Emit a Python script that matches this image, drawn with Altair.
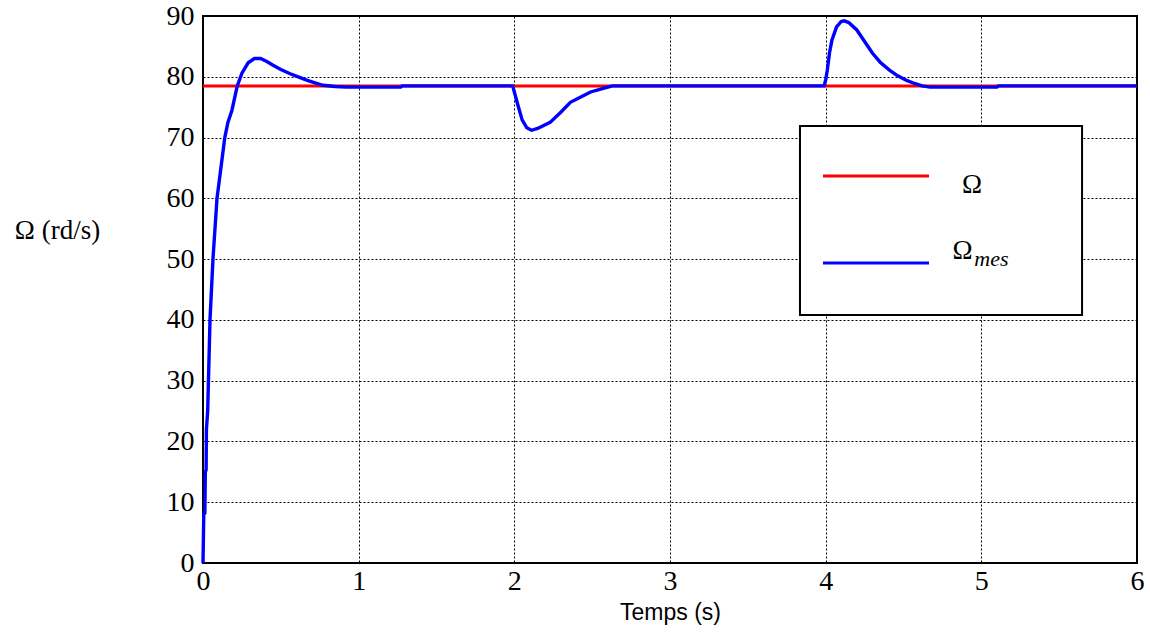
import altair as alt
import pandas as pd

# Reference speed (rd/s)
t_ref = [0.0, 6.0]
w_ref = [78.5, 78.5]

# Measured speed
t_mes = [0.00, 0.005, 0.012, 0.015, 0.02, 0.022, 0.03, 0.035, 0.045, 0.064, 0.09, 0.115,
         0.14, 0.16, 0.186, 0.22, 0.25, 0.29, 0.33, 0.37, 0.41, 0.45, 0.50, 0.56, 0.62,
         0.67, 0.72, 0.77, 0.85, 0.92, 1.27, 1.28, 1.99, 2.00, 2.02, 2.05, 2.08, 2.11,
         2.15, 2.23, 2.30, 2.36, 2.43, 2.49, 2.56, 2.63, 3.99, 4.00, 4.01, 4.025, 4.04,
         4.07, 4.10, 4.12, 4.15, 4.20, 4.25, 4.30, 4.35, 4.41, 4.46, 4.52, 4.57, 4.62,
         4.67, 5.10, 5.11, 6.00]
w_mes = [0.0, 8.0, 8.2, 15.0, 15.3, 22.0, 25.0, 30.0, 40.0, 50.0, 60.0, 65.0,
         70.0, 72.5, 74.5, 78.5, 80.6, 82.3, 83.0, 83.0, 82.5, 81.9, 81.2, 80.5, 79.9,
         79.4, 79.0, 78.6, 78.4, 78.3, 78.3, 78.5, 78.5, 77.5, 75.6, 72.9, 71.6, 71.2,
         71.5, 72.5, 74.2, 75.8, 76.7, 77.5, 78.0, 78.5, 78.5, 79.5, 81.0, 84.0, 86.0,
         88.2, 89.1, 89.2, 88.9, 87.7, 85.8, 83.9, 82.4, 81.1, 80.2, 79.4, 78.9, 78.5,
         78.3, 78.3, 78.5, 78.5]

x_ticks = [0, 1, 2, 3, 4, 5, 6]
y_ticks = [0, 10, 20, 30, 40, 50, 60, 70, 80, 90]

ref_df = pd.DataFrame({"t": t_ref, "w": w_ref})
mes_df = pd.DataFrame({"t": t_mes, "w": w_mes})

xs = alt.Scale(domain=[0, 6], nice=False)
ys = alt.Scale(domain=[0, 90], nice=False)

SERIF = "Liberation Serif, Times New Roman, serif"

x_axis = alt.Axis(values=x_ticks, format="d", title="Temps (s)", titleFont="Liberation Sans",
                  titleFontSize=23, titleFontWeight="normal", titleY=49,
                  titleBaseline="middle", labelFont=SERIF, labelFontSize=28,
                  labelPadding=4, labelFlush=False)
y_axis = alt.Axis(values=y_ticks, format="d", title="Ω (rd/s)", titleAngle=0, titleX=-146,
                  titleY=214, titleAlign="center", titleBaseline="middle",
                  titleFont=SERIF, titleFontSize=27, titleFontWeight="normal",
                  labelFont=SERIF, labelFontSize=28, labelPadding=9,
                  labelFlush=False)

ref_line = alt.Chart(ref_df).mark_line(color="#ff0000", strokeWidth=3).encode(
    x=alt.X("t:Q", scale=xs, axis=x_axis),
    y=alt.Y("w:Q", scale=ys, axis=y_axis),
)
mes_line = alt.Chart(mes_df).mark_line(color="#0000ff", strokeWidth=3.4).encode(
    x=alt.X("t:Q", scale=xs),
    y=alt.Y("w:Q", scale=ys),
)

# Legend box (in data coordinates)
leg_box = pd.DataFrame({"x1": [3.835], "x2": [5.647], "y1": [40.8], "y2": [71.9]})
legend_rect = alt.Chart(leg_box).mark_rect(fill="white", stroke="black", strokeWidth=2).encode(
    x=alt.X("x1:Q", scale=xs), x2="x2:Q", y=alt.Y("y1:Q", scale=ys), y2="y2:Q")

leg_lines = pd.DataFrame({"x1": [3.983, 3.983], "x2": [4.664, 4.664], "y": [63.67, 49.36],
                          "c": ["#ff0000", "#0000ff"]})
legend_rules = alt.Chart(leg_lines).mark_rule(strokeWidth=3).encode(
    x=alt.X("x1:Q", scale=xs), x2="x2:Q", y=alt.Y("y:Q", scale=ys),
    color=alt.Color("c:N", scale=None))

leg_omega = pd.DataFrame({"x": [4.94, 4.88], "y": [62.2, 51.4], "s": ["Ω", "Ω"]})
legend_omega = alt.Chart(leg_omega).mark_text(font=SERIF, fontSize=27,
                                               align="center", baseline="middle").encode(
    x=alt.X("x:Q", scale=xs), y=alt.Y("y:Q", scale=ys), text="s:N")
leg_sub = pd.DataFrame({"x": [4.955], "y": [50.0], "s": ["mes"]})
legend_sub = alt.Chart(leg_sub).mark_text(font=SERIF, fontSize=22, fontStyle="italic",
                                          align="left", baseline="middle").encode(
    x=alt.X("x:Q", scale=xs), y=alt.Y("y:Q", scale=ys), text="s:N")

chart = alt.layer(ref_line, mes_line, legend_rect, legend_rules, legend_omega, legend_sub).properties(
    width=934, height=547,
    background="white",
    autosize=alt.AutoSizeParams(type="none"),
    padding={"left": 203, "top": 16, "right": 13, "bottom": 70},
).configure_view(stroke="black", strokeWidth=2).configure_axis(
    domain=False, ticks=False, grid=True, gridColor="black", gridDash=[2, 2],
    gridWidth=1, gridOpacity=1, labelColor="black", titleColor="black"
)

chart.save("out.html", embed_options={"renderer": "svg", "actions": False})
